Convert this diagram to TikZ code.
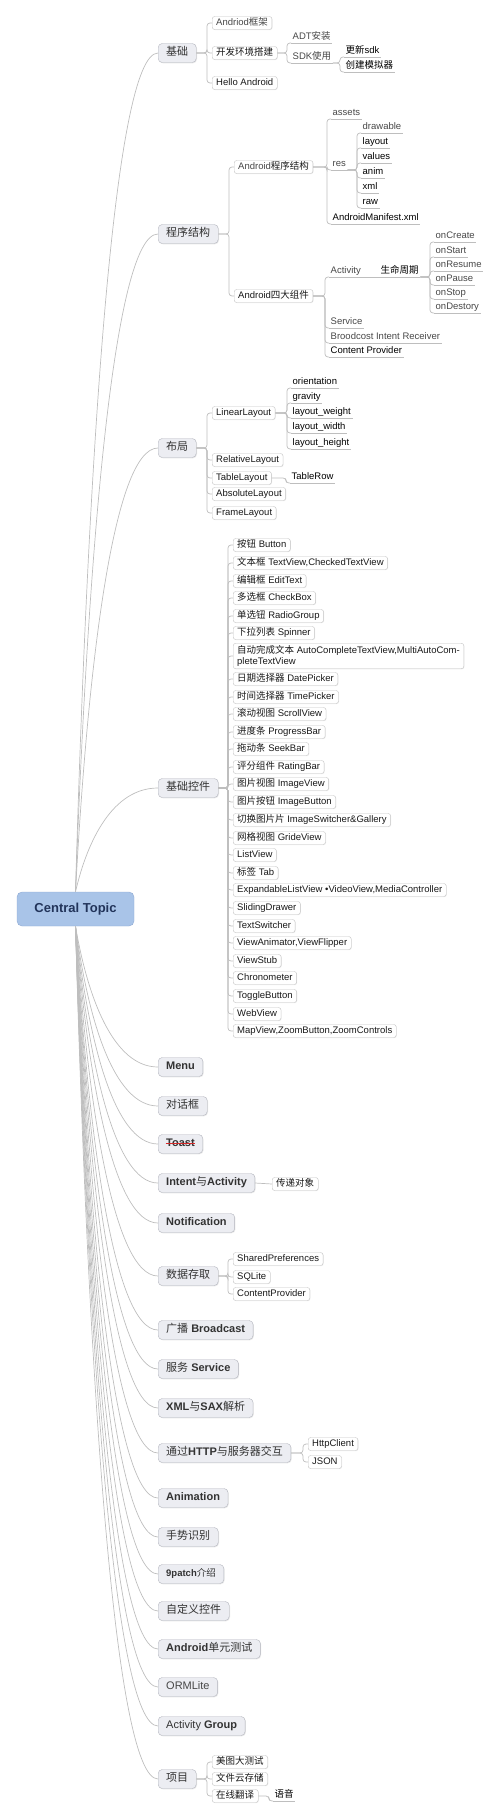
\documentclass[tikz,border=0pt]{standalone}
\usepackage{fontspec}
\setmainfont{Liberation Sans}
\newfontfamily\cjkfam{Noto Sans CJK SC}
\newfontfamily\latinfam{Liberation Sans}
\usetikzlibrary{calc,shadows}

\definecolor{rootfill}{HTML}{A9C4E8}
\definecolor{rootline}{HTML}{8EA9D2}
\definecolor{roottext}{HTML}{22345A}
\definecolor{topicfill}{HTML}{ECEDF2}
\definecolor{topicline}{HTML}{B3B5BE}
\definecolor{subline}{HTML}{C4C4C4}
\definecolor{linkgray}{HTML}{BEBEBE}
\definecolor{strikered}{HTML}{D42A2A}

% han characters go to the CJK family
\chardef\hanclass=7
\newcount\hancode
\hancode="2E80
\loop
  \XeTeXcharclass\hancode=\hanclass
  \advance\hancode by 1
\ifnum\hancode<"A000 \repeat
\hancode="FF00
\loop
  \XeTeXcharclass\hancode=\hanclass
  \advance\hancode by 1
\ifnum\hancode<"FFF0 \repeat
\XeTeXinterchartoks 0 \hanclass = {\cjkfam}
\XeTeXinterchartoks 4095 \hanclass = {\cjkfam}
\XeTeXinterchartoks \hanclass 0 = {\latinfam}
\XeTeXinterchartoks \hanclass 4095 = {\latinfam}
\XeTeXinterchartokenstate=1

\begin{document}
\begin{tikzpicture}[x=1pt,y=-1pt,
	root/.style={draw=rootline,fill=rootfill,rounded corners=5pt,text=roottext,
		font=\bfseries\fontsize{13}{15}\selectfont,minimum width=117pt,minimum height=34pt},
	topic/.style={draw=topicline,fill=topicfill,rounded corners=4pt,text=black!80,
		font=\fontsize{11}{13}\selectfont,inner xsep=8pt,inner ysep=3pt,
		text height=8pt,text depth=2.5pt,minimum height=19pt,anchor=west,
		drop shadow={shadow xshift=.8pt,shadow yshift=-.8pt,opacity=.18}},
	box/.style={draw=subline,fill=white,rounded corners=2.5pt,text=black!90,
		font=\fontsize{9.5}{11.4}\selectfont,inner xsep=4pt,inner ysep=1.5pt,anchor=west,
		drop shadow={shadow xshift=.6pt,shadow yshift=-.6pt,opacity=.15}},
	sub/.style={box,text height=7pt,text depth=2.2pt,minimum height=13pt},
	leaf/.style={font=\fontsize{9.5}{11.4}\selectfont,inner xsep=1.5pt,inner ysep=.8pt,
		text height=7pt,text depth=2.2pt,anchor=south west},
	thin/.style={text=black!72},
	branch/.style={draw=linkgray,line width=.7pt},
	link/.style={draw=linkgray,line width=.7pt,rounded corners=3pt}]
	\useasboundingbox (0,0) rectangle (502,1819);

	\node[root] (ct) at (75.5,909) {Central Topic};

	\node[topic] (jc) at (158,53) {基础};
	\node[topic] (cx) at (158,234) {程序结构};
	\node[topic] (bj) at (158,448) {布局};
	\node[topic] (kj) at (158,788) {基础控件};
	\node[topic] (menu) at (158,1067) {\textbf{Menu}};
	\node[topic] (dhk) at (158,1106) {对话框};
	\node[topic] (toast) at (158,1144) {\textbf{Toast}};
	\node[topic] (intent) at (158,1183) {\textbf{Intent}与\textbf{Activity}};
	\node[topic] (notif) at (158,1223) {\textbf{Notification}};
	\node[topic] (sjcq) at (158,1276) {数据存取};
	\node[topic] (gb) at (158,1330) {广播 \textbf{Broadcast}};
	\node[topic] (fw) at (158,1369) {服务 \textbf{Service}};
	\node[topic] (xmlsax) at (158,1408) {\textbf{XML}与\textbf{SAX}解析};
	\node[topic] (http) at (158,1453) {通过\textbf{HTTP}与服务器交互};
	\node[topic] (anim) at (158,1498) {\textbf{Animation}};
	\node[topic] (ssbs) at (158,1537) {手势识别};
	\node[topic,font=\fontsize{9.5}{11}\selectfont] (patch) at (158,1574) {\textbf{9patch}介绍};
	\node[topic] (zdy) at (158,1611) {自定义控件};
	\node[topic] (dycs) at (158,1649) {\textbf{Android}单元测试};
	\node[topic,thin] (orm) at (158,1687) {ORMLite};
	\node[topic] (ag) at (158,1726) {Activity \textbf{Group}};
	\node[topic] (xm) at (158,1779) {项目};

	\draw[strikered,line width=.8pt] ([xshift=7.5pt,yshift=3.3pt]toast.base west) -- ([xshift=-7.5pt,yshift=3.3pt]toast.base east);

	\foreach \t in {jc,cx,bj,kj}
		\draw[branch] (ct.north) .. controls ($(ct.north)!.5!(ct.north |- \t.west)+(12,0)$) and ($(\t.west)+(-45,0)$) .. (\t.west);
	\foreach \t in {menu,dhk,toast,intent,notif,sjcq,gb,fw,xmlsax,http,anim,ssbs,patch,zdy,dycs,orm,ag,xm}
		\draw[branch] (ct.south) .. controls ($(ct.south)!.5!(ct.south |- \t.west)+(12,0)$) and ($(\t.west)+(-45,0)$) .. (\t.west);

	% 基础
	\node[sub,thin] (frame) at (212,23) {Andriod框架};
	\node[sub] (env) at (212,53) {开发环境搭建};
	\node[sub] (hello) at (212,83) {Hello Android};
	\node[leaf,thin] (adt) at (291,43) {ADT安装};
	\node[leaf,thin] (sdk) at (291,63) {SDK使用};
	\node[leaf] (gxsdk) at (344,57) {更新sdk};
	\node[leaf] (cjmn) at (344,72) {创建模拟器};

	% 程序结构
	\node[sub] (struct) at (234,167) {{\color{black!72}Android}程序结构};
	\node[sub] (four) at (234,296) {Android四大组件};
	\node[leaf,thin] (assets) at (331,119) {assets};
	\node[leaf,thin] (res) at (331,170) {res};
	\node[leaf] (manifest) at (331,224) {AndroidManifest.xml};
	\node[leaf,thin] (drawable) at (361,133) {drawable};
	\node[leaf] (layout) at (361,148) {layout};
	\node[leaf] (values) at (361,163) {values};
	\node[leaf] (anim2) at (361,178) {anim};
	\node[leaf] (resxml) at (361,193) {xml};
	\node[leaf] (raw) at (361,208) {raw};
	\node[leaf,thin] (activity) at (329,277) {Activity};
	\node[leaf] (life) at (379,277) {生命周期};
	\node[leaf,thin] (oncreate) at (434,242) {onCreate};
	\node[leaf,thin] (onstart) at (434,257) {onStart};
	\node[leaf,thin] (onresume) at (434,271) {onResume};
	\node[leaf,thin] (onpause) at (434,285) {onPause};
	\node[leaf,thin] (onstop) at (434,299) {onStop};
	\node[leaf,thin] (ondestory) at (434,313) {onDestory};
	\node[leaf,thin] (service) at (329,328) {Service};
	\node[leaf,thin] (receiver) at (329,343) {Broodcost Intent Receiver};
	\node[leaf] (provider) at (329,357) {Content Provider};

	% 布局
	\node[sub] (linear) at (212,413) {LinearLayout};
	\node[sub] (relative) at (212,460) {RelativeLayout};
	\node[sub] (table) at (212,478) {TableLayout};
	\node[sub] (absolute) at (212,494) {AbsoluteLayout};
	\node[sub] (framel) at (212,513) {FrameLayout};
	\node[leaf] (orient) at (291,388) {orientation};
	\node[leaf] (gravity) at (291,403) {gravity};
	\node[leaf] (lweight) at (291,418) {layout\_weight};
	\node[leaf] (lwidth) at (291,433) {layout\_width};
	\node[leaf] (lheight) at (291,449) {layout\_height};
	\node[leaf] (tablerow) at (290,483) {TableRow};

	% 基础控件
	\foreach \y/\txt [count=\i] in {545/按钮 Button, 563/{文本框 TextView,CheckedTextView}, 581/编辑框 EditText,
		598/多选框 CheckBox, 616/单选钮 RadioGroup, 633/下拉列表 Spinner}
		\node[sub] (wa\i) at (233,\y) {\txt};
	\node[box,align=left,inner ysep=2pt] (auto) at (233,656) {自动完成文本 AutoCompleteTextView,MultiAutoCom-\\pleteTextView};
	\foreach \y/\txt [count=\i] in {679/日期选择器 DatePicker, 697/时间选择器 TimePicker, 714/滚动视图 ScrollView,
		732/进度条 ProgressBar, 749/拖动条 SeekBar, 767/评分组件 RatingBar, 784/图片视图 ImageView,
		802/图片按钮 ImageButton, 820/切换图片片 ImageSwitcher\&Gallery, 838/网格视图 GrideView,
		855/ListView, 873/标签 Tab, 890/{ExpandableListView •VideoView,MediaController}, 908/SlidingDrawer,
		926/TextSwitcher, 943/{ViewAnimator,ViewFlipper}, 961/ViewStub, 978/Chronometer, 996/ToggleButton,
		1014/WebView, 1031/{MapView,ZoomButton,ZoomControls}}
		\node[sub] (wb\i) at (233,\y) {\txt};

	% 其他
	\node[sub] (cdobj) at (272,1184) {传递对象};
	\node[sub] (shared) at (233,1259) {SharedPreferences};
	\node[sub] (sqlite) at (233,1277) {SQLite};
	\node[sub] (cprov) at (233,1294) {ContentProvider};
	\node[sub] (httpclient) at (308,1444) {HttpClient};
	\node[sub] (json) at (308,1462) {JSON};
	\node[sub] (meitu) at (212,1762) {美图大测试};
	\node[sub] (cloud) at (212,1779) {文件云存储};
	\node[sub] (trans) at (212,1796) {在线翻译};
	\node[leaf] (voice) at (273,1801) {语音};

	\foreach \p/\c in {jc/frame,jc/env,jc/hello,cx/struct,cx/four,bj/linear,bj/relative,bj/table,bj/absolute,bj/framel,
		kj/auto,sjcq/shared,sjcq/sqlite,sjcq/cprov,http/httpclient,http/json,xm/meitu,xm/cloud,xm/trans}
		\draw[link] (\p.east) -- ($(\c.west |- \p.east)+(-5,0)$) |- (\c.west);
	\foreach \i in {1,...,6}
		\draw[link] (kj.east) -- ($(wa\i.west |- kj.east)+(-5,0)$) |- (wa\i.west);
	\foreach \i in {1,...,21}
		\draw[link] (kj.east) -- ($(wb\i.west |- kj.east)+(-5,0)$) |- (wb\i.west);
	\draw[link] (intent.east) -- (cdobj.west);

	\foreach \p/\c in {env/adt,env/sdk,struct/assets,struct/res,struct/manifest,four/activity,four/service,
		four/receiver,four/provider,linear/orient,linear/gravity,linear/lweight,linear/lwidth,linear/lheight,
		table/tablerow,trans/voice}
		\draw[link] (\p.east) -- ($(\c.south west |- \p.east)+(-4,0)$) |- (\c.south west);
	\foreach \p/\c in {sdk/gxsdk,sdk/cjmn,res/drawable,res/layout,res/values,res/anim2,res/resxml,res/raw,
		life/oncreate,life/onstart,life/onresume,life/onpause,life/onstop,life/ondestory}
		\draw[link] (\p.south east) -- ($(\c.south west |- \p.south east)+(-4,0)$) |- (\c.south west);
	\draw[link] (activity.south east) -- (life.south west);

	\foreach \n in {adt,sdk,gxsdk,cjmn,assets,res,manifest,drawable,layout,values,anim2,resxml,raw,activity,life,
		oncreate,onstart,onresume,onpause,onstop,ondestory,service,receiver,provider,
		orient,gravity,lweight,lwidth,lheight,tablerow,voice}
		\draw[link] (\n.south west) -- (\n.south east);
\end{tikzpicture}
\end{document}
